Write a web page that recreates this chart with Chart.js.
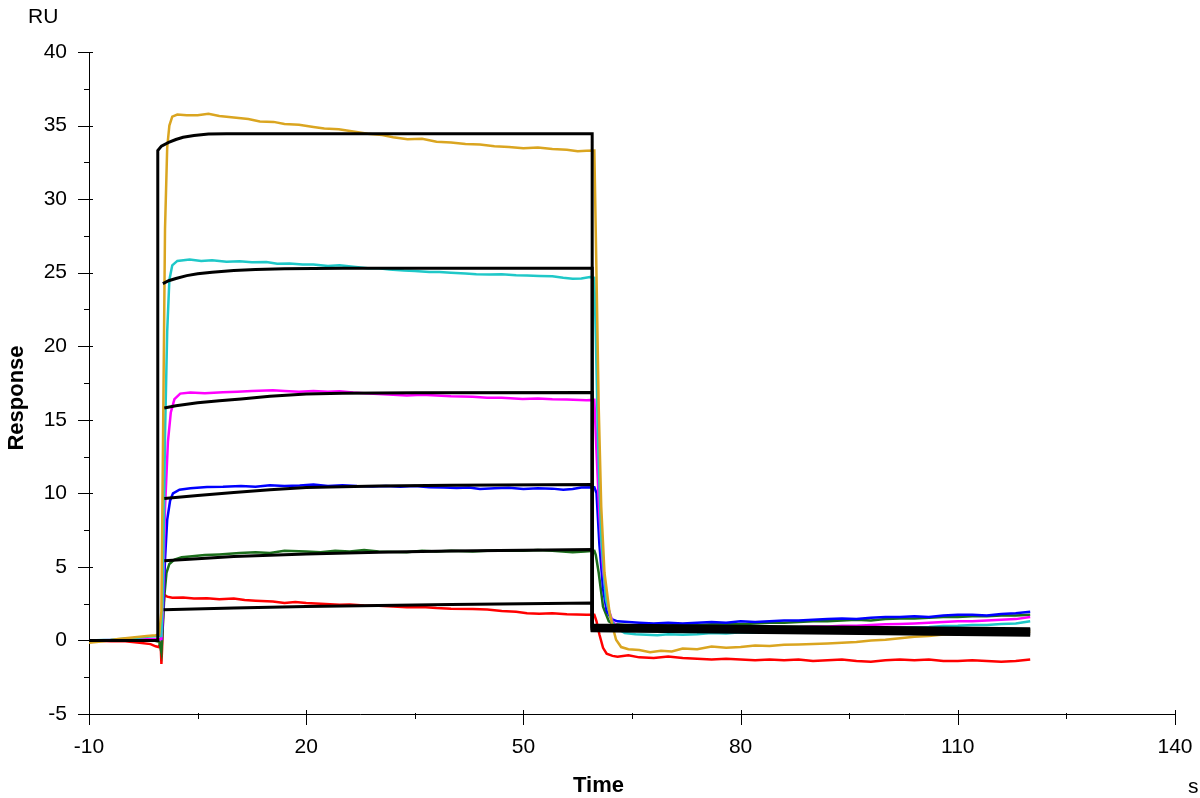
<!DOCTYPE html>
<html>
<head>
<meta charset="utf-8">
<title>Sensorgram</title>
<script src="https://cdn.jsdelivr.net/npm/chart.js@4.4.1/dist/chart.umd.min.js"></script>
<style>
  html, body { margin: 0; padding: 0; background: #fff; }
  #wrap { width: 1200px; height: 798px; position: relative; }
</style>
</head>
<body>
<div id="wrap"><canvas id="sensorgram"></canvas></div>
<script>
// axis ticks
const xTicks = [-10, 20, 50, 80, 110, 140];
const xMinorTicks = [5, 35, 65, 95, 125];
const yTicks = [-5, 0, 5, 10, 15, 20, 25, 30, 35, 40];
const yMinorTicks = [-2.5, 2.5, 7.5, 12.5, 17.5, 22.5, 27.5, 32.5, 37.5];

// measured curves, [time s, response RU]
const gold = [[-10,-0.15],[-8,-0.05],[-6,0.1],[-4,0.2],[-2,0.3],[-0.8,0.35],[-0.3,0.4],[0.0,2],[0.25,15],[0.5,28],[0.8,33.5],[1.1,35.0],[1.5,35.6],[2.2,35.75],[3.5,35.7],[5,35.7],[6.5,35.8],[8,35.65],[10,35.55],[12,35.45],[13.6,35.28],[15.5,35.25],[17,35.1],[19,35.05],[21,34.9],[22.5,34.8],[24.5,34.75],[26.5,34.6],[28.5,34.45],[30.5,34.35],[32,34.2],[34,34.07],[36,34.1],[38,33.9],[40,33.85],[42,33.75],[44,33.72],[46,33.6],[48,33.55],[50,33.45],[52,33.5],[54,33.4],[56,33.35],[57.5,33.25],[58.7,33.28],[59.8,33.3],
  [60.05,26.2],[60.4,15.9],[60.75,9.1],[61.2,4.6],[61.9,1.9],[62.4,0.8],[62.8,0.05],[63.5,-0.45],[64.5,-0.6],[66,-0.65],[67.5,-0.8],[69,-0.7],[70.5,-0.75],[72,-0.55],[74,-0.6],[76,-0.42],[78,-0.5],[80,-0.45],[82,-0.35],[84,-0.38],[86,-0.3],[88,-0.28],[90,-0.25],[92,-0.2],[94,-0.15],[96,-0.1],[98,0.0],[100,0.05],[102,0.15],[104,0.25],[106,0.3],[108,0.4],[110,0.45],[112,0.45],[114,0.5],[116,0.55],[118,0.55],[120,0.6]];

const cyan = [[-10,0],[-7,0.05],[-4,0.15],[-2,0.25],[-0.5,0.3],[0,0.3],[0.2,3],[0.5,14],[0.8,21],[1.1,24.5],[1.5,25.5],[2.2,25.8],[3.9,25.9],[5.5,25.8],[7,25.85],[9,25.75],[10.8,25.78],[12.5,25.7],[14.5,25.72],[16,25.6],[17.7,25.63],[19.5,25.55],[21,25.55],[23,25.45],[24.6,25.5],[26.5,25.4],[28.5,25.3],[30,25.3],[31.5,25.22],[33.5,25.15],[35,25.12],[37,25.05],[38.4,25.04],[40,25.0],[42,24.95],[43.5,24.9],[45.3,24.88],[47,24.9],[49,24.82],[50.5,24.8],[52.2,24.77],[54,24.75],[55.5,24.65],[56.8,24.59],[58,24.6],[59.2,24.7],[59.8,24.65],
  [60.0,20.7],[60.3,13.7],[60.75,6.9],[61.4,2.8],[62.2,1.3],[63,0.8],[64,0.5],[65.5,0.42],[67,0.38],[68.5,0.35],[70,0.42],[72,0.38],[74,0.42],[76,0.5],[78,0.48],[80,0.55],[82,0.52],[84,0.6],[86,0.62],[88,0.7],[90,0.72],[92,0.7],[94,0.78],[96,0.8],[98,0.78],[100,0.85],[102,0.88],[104,0.9],[106,0.92],[108,0.98],[110,1.0],[112,1.05],[114,1.05],[116,1.12],[118,1.15],[120,1.3]];

const magenta = [[-10,0],[-5,0.05],[-0.5,0.1],[0,0.1],[0.2,2],[0.5,9],[0.9,13.5],[1.3,15.5],[1.8,16.4],[2.6,16.78],[4,16.85],[6,16.8],[8.5,16.87],[10.5,16.9],[12.5,16.95],[15.4,17.0],[17,16.95],[19,16.9],[21,16.95],[23,16.9],[24.6,16.94],[26.5,16.85],[28,16.8],[30,16.75],[32,16.7],[33.9,16.65],[36,16.7],[38,16.65],[40,16.6],[43,16.56],[45,16.5],[47,16.5],[49.9,16.42],[52,16.45],[54,16.4],[56,16.38],[58.7,16.33],[59.8,16.35],
  [60.1,12.8],[60.5,8.5],[61,4.8],[61.6,2.4],[62.3,1.3],[63,0.95],[64.5,0.8],[66,0.75],[68,0.7],[70,0.72],[72,0.68],[74,0.75],[76,0.72],[78,0.78],[80,0.8],[82,0.82],[84,0.85],[86,0.88],[88,0.9],[90,0.95],[92,0.95],[94,1.0],[96,1.0],[98,1.05],[100,1.1],[102,1.12],[104,1.15],[106,1.2],[108,1.25],[110,1.3],[112,1.3],[114,1.35],[116,1.4],[118,1.45],[120,1.6]];

const blue = [[-10,0],[-5,0],[-0.5,0.05],[0,0.1],[0.2,1.5],[0.5,5.5],[0.8,8.2],[1.2,9.5],[1.6,10.0],[2.5,10.25],[4,10.35],[6.3,10.43],[8.5,10.45],[11,10.5],[13,10.45],[15,10.55],[17,10.5],[19.1,10.54],[21,10.6],[23,10.5],[25,10.55],[27,10.5],[29.2,10.47],[31,10.5],[33,10.45],[35,10.5],[37,10.42],[39,10.4],[40.8,10.36],[42.5,10.4],[44,10.3],[46,10.35],[48,10.38],[50,10.3],[52,10.35],[54,10.32],[55.5,10.25],[56.8,10.3],[58,10.4],[59.8,10.42],
  [60.1,10.0],[60.5,6.5],[61,3.5],[61.5,2.0],[62.2,1.45],[63,1.3],[64.5,1.25],[66,1.2],[68,1.15],[70,1.2],[72,1.15],[74,1.2],[76,1.25],[78,1.2],[80,1.3],[82,1.25],[84,1.3],[86,1.35],[88,1.35],[90,1.4],[92,1.45],[94,1.5],[96,1.45],[98,1.55],[100,1.6],[102,1.6],[104,1.65],[106,1.6],[108,1.7],[110,1.75],[112,1.75],[114,1.7],[116,1.8],[118,1.85],[120,1.95]];

const green = [[-10,0],[-5,0],[-1,0],[-0.3,-0.1],[0,-0.8],[0.15,0.5],[0.4,3.0],[0.7,4.6],[1.1,5.2],[1.8,5.5],[2.8,5.65],[3.9,5.71],[6,5.8],[8,5.85],[10.8,5.94],[13,6.0],[15,5.95],[17,6.1],[20,6.05],[22,6.0],[24,6.1],[26,6.05],[28,6.15],[30,6.05],[33.9,6.0],[36,6.1],[38,6.05],[40,6.1],[43,6.05],[45,6.1],[47.7,6.12],[50,6.1],[52,6.15],[54,6.1],[56.8,6.0],[58.5,6.05],[59.8,6.1],
  [60.0,5.8],[60.4,4.6],[61.0,2.3],[61.8,1.3],[62.5,1.1],[64,1.05],[66,1.0],[68,1.05],[70,1.0],[72,1.1],[74,1.05],[76,1.1],[78,1.15],[80,1.1],[82,1.15],[84,1.2],[86,1.2],[88,1.25],[90,1.3],[92,1.3],[94,1.35],[96,1.4],[98,1.35],[100,1.45],[102,1.5],[104,1.5],[106,1.55],[108,1.6],[110,1.6],[112,1.65],[114,1.65],[116,1.7],[118,1.7],[120,1.75]];

const red = [[-10,0],[-7,-0.05],[-5,-0.05],[-3,-0.15],[-1.5,-0.25],[-0.8,-0.4],[-0.4,-0.45],[-0.1,-0.2],[0.0,-1.6],[0.1,-0.5],[0.25,2.0],[0.4,3.1],[0.8,2.98],[1.5,2.9],[3,2.92],[4.5,2.85],[6.3,2.87],[8,2.8],[10,2.85],[11.5,2.75],[13,2.7],[15.4,2.64],[17,2.55],[18.5,2.62],[20,2.55],[22,2.5],[24.6,2.42],[26,2.45],[28,2.38],[30,2.35],[32,2.3],[33.9,2.26],[36,2.28],[38,2.2],[40,2.15],[43,2.13],[45,2.1],[47,2.0],[49,1.95],[50.5,1.85],[52.2,1.81],[54,1.85],[56,1.78],[58.7,1.74],[59.8,1.75],
  [60.1,1.3],[60.5,0.4],[61,-0.5],[61.5,-0.9],[62.3,-1.05],[63,-1.1],[64.5,-1.0],[66,-1.15],[68,-1.2],[70,-1.1],[72,-1.2],[74,-1.25],[76,-1.3],[78,-1.25],[80,-1.3],[82,-1.35],[84,-1.3],[86,-1.35],[88,-1.3],[90,-1.4],[92,-1.35],[94,-1.3],[96,-1.4],[98,-1.45],[100,-1.35],[102,-1.3],[104,-1.35],[106,-1.3],[108,-1.4],[110,-1.4],[112,-1.35],[114,-1.4],[116,-1.45],[118,-1.4],[120,-1.3]];

// fitted curves (black)
const fitGold = [[-10,0],[-0.5,0],[-0.5,33.3],[0,33.6],[1,33.85],[2,34.05],[3,34.2],[4.5,34.32],[6.5,34.42],[9,34.45],[20,34.45],[59.5,34.45],[59.5,0.65],[120,0.35]];
const fitCyan = [[0.2,24.25],[1,24.45],[2,24.6],[3.5,24.8],[5,24.92],[7,25.03],[10,25.15],[13,25.22],[17,25.27],[25,25.3],[59.5,25.3],[59.5,0.85],[120,0.65]];
const fitMagenta = [[0.4,15.8],[2,15.95],[5,16.15],[8,16.3],[11,16.42],[15,16.6],[20,16.75],[25,16.8],[35,16.83],[59.5,16.85],[59.5,0.95],[120,0.75]];
const fitBlue = [[0.4,9.65],[5,9.85],[10,10.05],[15,10.25],[20,10.4],[30,10.5],[40,10.55],[59.5,10.6],[59.5,1.05],[120,0.8]];
const fitGreen = [[0.4,5.42],[5,5.55],[10,5.7],[20,5.88],[30,6.0],[40,6.08],[50,6.13],[59.5,6.18],[59.5,0.8],[120,0.55]];
const fitRed = [[0.3,2.08],[10,2.2],[20,2.3],[30,2.38],[40,2.45],[50,2.5],[59.5,2.54],[59.5,0.7],[120,0.45]];

const curves = [
  { data: gold, color: '#DAA520' },
  { data: cyan, color: '#1FC8C8' },
  { data: magenta, color: '#FF00FF' },
  { data: blue, color: '#0000FF' },
  { data: green, color: '#1B6E1B' },
  { data: red, color: '#FF0000' }
];
const fits = [fitGold, fitCyan, fitMagenta, fitBlue, fitGreen, fitRed];

const toXY = arr => arr.map(p => ({ x: p[0], y: p[1] }));

const datasets = [];
fits.forEach(f => datasets.push({
  data: toXY(f), borderColor: '#000', borderWidth: 3, order: 0
}));
curves.forEach(c => datasets.push({
  data: toXY(c.data), borderColor: c.color, borderWidth: 2.5, order: 1
}));

const FONT = "'Liberation Sans', Arial, sans-serif";

// minor/major tick marks that cross the axis lines, plus the loose labels
const axisDecor = {
  id: 'axisDecor',
  afterDraw(chart) {
    const ctx = chart.ctx;
    const xs = chart.scales.x, ys = chart.scales.y;
    const x0 = xs.left, y0 = ys.bottom;
    ctx.save();
    ctx.strokeStyle = '#000';
    ctx.lineWidth = 1;
    ctx.beginPath();
    yTicks.forEach(v => {
      const p = Math.round(ys.getPixelForValue(v)) + 0.5;
      ctx.moveTo(x0 - 11, p); ctx.lineTo(x0 + 4, p);
    });
    yMinorTicks.forEach(v => {
      const p = Math.round(ys.getPixelForValue(v)) + 0.5;
      ctx.moveTo(x0 - 5, p); ctx.lineTo(x0 + 1, p);
    });
    xTicks.forEach(v => {
      const p = Math.round(xs.getPixelForValue(v)) + 0.5;
      ctx.moveTo(p, y0 - 4); ctx.lineTo(p, y0 + 11);
    });
    xMinorTicks.forEach(v => {
      const p = Math.round(xs.getPixelForValue(v)) + 0.5;
      ctx.moveTo(p, y0 - 1); ctx.lineTo(p, y0 + 5);
    });
    ctx.stroke();

    ctx.fillStyle = '#000';
    ctx.font = '21px ' + FONT;
    ctx.textAlign = 'left';
    ctx.textBaseline = 'alphabetic';
    ctx.fillText('RU', 28, 23);
    ctx.fillText('s', 1188, 793);

    ctx.font = 'bold 22px ' + FONT;
    ctx.fillText('Time', 573, 792);

    ctx.translate(23, 398);
    ctx.rotate(-Math.PI / 2);
    ctx.textAlign = 'center';
    ctx.fillText('Response', 0, 0);
    ctx.restore();
  }
};

new Chart(document.getElementById('sensorgram'), {
  type: 'scatter',
  data: { datasets },
  options: {
    responsive: true,
    maintainAspectRatio: false,
    animation: false,
    events: [],
    layout: { padding: { top: 52, right: 25, left: 0, bottom: 0 } },
    elements: {
      point: { radius: 0 },
      line: { tension: 0, fill: false }
    },
    datasets: { scatter: { showLine: true } },
    plugins: { legend: { display: false }, tooltip: { enabled: false } },
    scales: {
      x: {
        type: 'linear', min: -10, max: 140,
        afterFit: s => { s.height = 84; s.paddingLeft = 0; s.paddingRight = 0; },
        grid: { display: true, drawOnChartArea: false, drawTicks: false },
        border: { display: true, color: '#000', width: 1 },
        ticks: { stepSize: 30, color: '#000', padding: 21, maxRotation: 0,
                 font: { family: FONT, size: 21 } }
      },
      y: {
        type: 'linear', min: -5, max: 40,
        afterFit: s => { s.width = 89; s.paddingTop = 0; s.paddingBottom = 0; },
        grid: { display: true, drawOnChartArea: false, drawTicks: false },
        border: { display: true, color: '#000', width: 1 },
        ticks: { stepSize: 5, color: '#000', padding: 22,
                 font: { family: FONT, size: 21 } }
      }
    }
  },
  plugins: [axisDecor]
});
</script>
</body>
</html>
